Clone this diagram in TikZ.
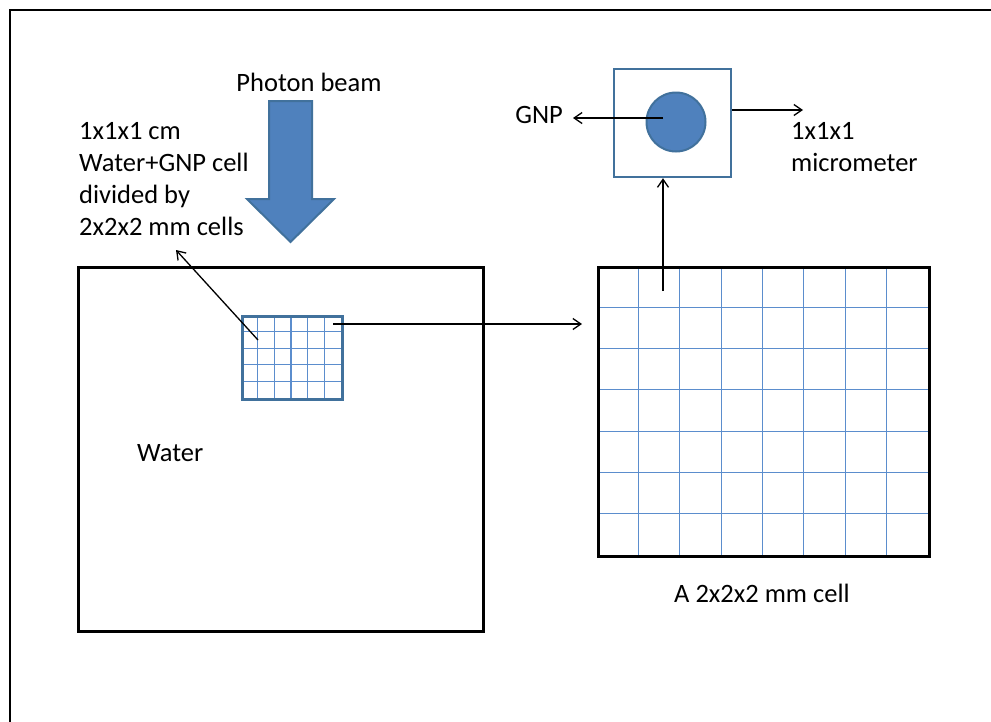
\documentclass[tikz,border=0pt]{standalone}
\usepackage{fontspec}
\setmainfont{Carlito}
\usetikzlibrary{arrows.meta}
\definecolor{fillblue}{RGB}{79,129,189}
\definecolor{edgeblue}{RGB}{65,113,156}
\definecolor{gridblue}{RGB}{91,141,205}
\tikzset{
  lbl/.style={inner sep=0pt, font=\fontsize{26.5}{31.7}\selectfont},
  pointer/.style={draw=black, line width=1.3pt, -{Straight Barb[length=8pt,width=11pt,line width=1.3pt]}},
  gridline/.style={gridblue, line width=1.1pt},
  heavybox/.style={draw=black, line width=2.6pt},
}
\begin{document}
\begin{tikzpicture}[x=1pt,y=-1pt]
\useasboundingbox (0,0) rectangle (991,721);
\fill[white] (0,0) rectangle (991,721);

% outer frame (open on the right and at the bottom)
\draw[black, line width=2.4pt] (10,730) -- (10,10) -- (1000,10);

% water phantom
\node[heavybox, minimum width=405pt, minimum height=364pt, inner sep=0pt, anchor=north west] (water) at (77,266) {};
\node[lbl, anchor=base west] (waterlbl) at (137,461) {Water};

% water+GNP cell divided into 2x2x2 mm cells
\foreach \i in {1,...,5} \draw[gridline] (241+\i*16.67,315) -- (241+\i*16.67,398);
\foreach \j in {1,...,4} \draw[gridline] (241,315+\j*16.6) -- (341,315+\j*16.6);
\node[draw=edgeblue, line width=2.6pt, minimum width=100pt, minimum height=83pt, inner sep=0pt, anchor=north west] (smallgrid) at (241,315) {};

% photon beam
\node[lbl, anchor=base] (beamlbl) at (309,91) {Photon beam};
\draw[fill=fillblue, draw=edgeblue, line width=2pt]
  (269,101) -- (312,101) -- (312,199) -- (334,199) -- (290.5,242) -- (247,199) -- (269,199) -- cycle;

% label of the 1 cm cell (base anchor sits on the last line)
\node[lbl, anchor=base west, align=left] (cellnote) at (79,235) {1x1x1 cm\\Water+GNP cell\\divided by\\2x2x2 mm cells};

% one 2x2x2 mm cell, enlarged
\foreach \i in {1,...,7} \draw[gridline] (597+\i*41.375,266) -- (597+\i*41.375,555);
\foreach \j in {1,...,6} \draw[gridline] (597,266+\j*41.29) -- (928,266+\j*41.29);
\node[heavybox, minimum width=331pt, minimum height=289pt, inner sep=0pt, anchor=north west] (bigcell) at (597,266) {};
\node[lbl, anchor=base west] (celllbl) at (674,602) {A 2x2x2 mm cell};

% micrometre voxel with a gold nanoparticle
\node[draw=edgeblue, line width=2.2pt, minimum width=117pt, minimum height=108pt, inner sep=0pt, anchor=north west] (voxel) at (613,68) {};
\node[circle, fill=fillblue, draw=edgeblue, line width=2pt, minimum size=59pt, inner sep=0pt] (gnp) at (676,122) {};
\node[lbl, anchor=base east] (gnplbl) at (563,123) {GNP};
\node[lbl, anchor=base west, align=left] (voxellbl) at (791,171) {1x1x1\\micrometer};

% connectors
\coordinate (p1) at (258,340);
\coordinate (p1end) at (176,250);
\coordinate (p2) at (333,324);
\coordinate (p2end) at (582,324);
\coordinate (p3) at (663,291);
\coordinate (p4) at (663,118);
\coordinate (p4end) at (573,118);
\coordinate (p5end) at (803,110);

\draw[pointer] (p1) -- (p1end);
\draw[pointer] (p2) -- (p2end);
\draw[pointer] (p3) -- (p3 |- voxel.south);
\draw[pointer] (p4) -- (p4end);
\draw[pointer] (voxel.east |- p5end) -- (p5end);
\end{tikzpicture}
\end{document}
